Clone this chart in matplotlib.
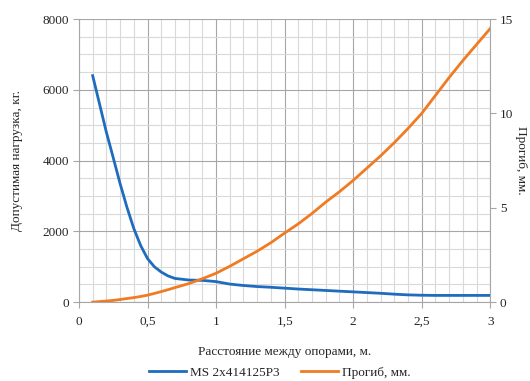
import matplotlib.pyplot as plt

plt.rcParams['font.family'] = ['Liberation Serif', 'DejaVu Serif']

span = [0.1, 0.2, 0.25, 0.3, 0.35, 0.4, 0.45, 0.5, 0.55, 0.6, 0.65, 0.7, 0.8, 0.9, 1.0,
        1.1, 1.2, 1.3, 1.4, 1.5, 1.6, 1.7, 1.8, 1.9, 2.0,
        2.1, 2.2, 2.3, 2.4, 2.5, 2.6, 2.7, 2.8, 2.9, 3.0]
load = [6400, 4800, 4080, 3350, 2680, 2080, 1600, 1230, 1000, 850, 740, 670, 625, 615, 580,
        510, 470, 440, 420, 395, 370, 350, 330, 310, 290,
        270, 250, 225, 205, 195, 190, 190, 190, 190, 190]
deflection = [0.0, 0.06, 0.09, 0.14, 0.19, 0.24, 0.3, 0.37, 0.46, 0.56, 0.66, 0.77, 0.98, 1.24, 1.53,
              1.9, 2.3, 2.7, 3.15, 3.66, 4.15, 4.7, 5.3, 5.85, 6.45,
              7.1, 7.75, 8.45, 9.2, 10.0, 10.95, 11.9, 12.8, 13.65, 14.5]

x_ticks = [0, 0.5, 1, 1.5, 2, 2.5, 3]
x_labels = ['0', '0,5', '1', '1,5', '2', '2,5', '3']
left_ticks = [0, 2000, 4000, 6000, 8000]
right_ticks = [0, 5, 10, 15]

txt = '#262626'
blue = '#1f6bbd'
orange = '#f07b22'

fig = plt.figure(figsize=(5.3, 3.81), dpi=100)
ax = fig.add_axes([0.149, 0.207, 0.776, 0.743])
ax2 = ax.twinx()

# grid
minor_x = [i / 10 for i in range(31)]
minor_y = [i * 500 for i in range(17)]
ax.set_xticks(minor_x, minor=True)
ax.set_yticks(minor_y, minor=True)
ax.grid(which='minor', color='#d9d9d9', linewidth=0.8)
ax.grid(which='major', color='#a6a6a6', linewidth=0.8)
ax.set_axisbelow(True)

l1, = ax.plot(span, load, color=blue, linewidth=2, label='MS 2x414125P3', zorder=3)
l2, = ax2.plot(span, deflection, color=orange, linewidth=2, label='Прогиб, мм.', zorder=3)

ax.set_xlim(0, 3)
ax.set_ylim(0, 8000)
ax2.set_ylim(0, 15)
ax.set_xticks(x_ticks)
ax.set_xticklabels(x_labels)
ax.set_yticks(left_ticks)
ax2.set_yticks(right_ticks)

for a in (ax, ax2):
    for s in a.spines.values():
        s.set_visible(False)
    a.tick_params(which='major', length=4, color='#a6a6a6', labelsize=9.5,
                  labelcolor=txt, pad=3)
    a.tick_params(which='minor', length=0)
ax.spines['left'].set_visible(True)
ax.spines['left'].set_color('#a6a6a6')
ax.spines['bottom'].set_visible(True)
ax.spines['bottom'].set_color('#a6a6a6')
ax2.spines['right'].set_visible(True)
ax2.spines['right'].set_color('#a6a6a6')
ax.tick_params(axis='x', pad=6)

ax.set_xlabel('Расстояние между опорами, м.', fontsize=9.5, color=txt, labelpad=13)
ax.set_ylabel('Допустимая нагрузка, кг.', fontsize=9.5, color=txt, labelpad=14)
ax2.set_ylabel('Прогиб, мм.', fontsize=9.5, color=txt, rotation=270,
               va='center', ha='center')
ax2.yaxis.set_label_coords(1.074, 0.5)

fig.legend(handles=[l1, l2], loc='center', ncol=2, frameon=False,
           fontsize=9.5, bbox_to_anchor=(0.528, 0.021), handlelength=2.8,
           columnspacing=1.6, handletextpad=0.3, labelcolor=txt)

fig.savefig('out.png', dpi=100)
